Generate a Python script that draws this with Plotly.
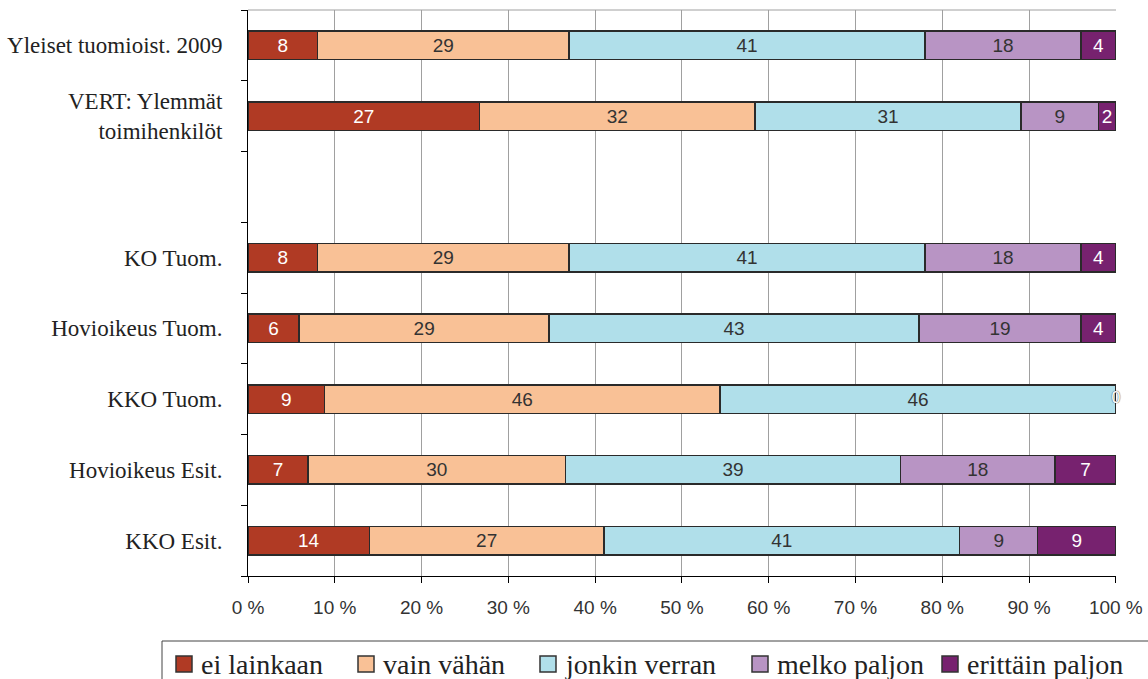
import plotly.graph_objects as go

categories = ["Yleiset tuomioist. 2009", "VERT: Ylemmät<br>toimihenkilöt", " ",
              "KO Tuom.", "Hovioikeus Tuom.", "KKO Tuom.", "Hovioikeus Esit.", "KKO Esit."]
series_names = ["ei lainkaan", "vain vähän", "jonkin verran", "melko paljon", "erittäin paljon"]
ei_lainkaan = [8, 26.7, None, 8, 5.9, 8.8, 6.9, 14]
vain_vahan = [29, 31.7, None, 29, 28.8, 45.6, 29.7, 27]
jonkin_verran = [41, 30.7, None, 41, 42.6, 45.6, 38.6, 41]
melko_paljon = [18, 8.9, None, 18, 18.7, 0, 17.8, 9]
erittain_paljon = [4, 2.0, None, 4, 4.0, 0, 7.0, 9]
x_ticks = [0, 10, 20, 30, 40, 50, 60, 70, 80, 90, 100]
x_ticklabels = [f"{v} %" for v in x_ticks]

colors = ["#B03A24", "#F9C196", "#B0DFEA", "#B894C4", "#77226F"]
text_colors = ["white", "#333333", "#333333", "#333333", "white"]
all_series = [ei_lainkaan, vain_vahan, jonkin_verran, melko_paljon, erittain_paljon]

SANS = "Liberation Sans, Arial, sans-serif"
SERIF = "Liberation Serif"

# figure geometry (pixels)
W, H = 1148, 679
ML, MR, MT, MB = 248, 32, 10, 103
PW, PH = W - ML - MR, H - MT - MB


def px_x(px):
    return (px - ML) / PW


def px_y(py):
    return (H - MB - py) / PH


fig = go.Figure()
for name, vals, col, tcol in zip(series_names, all_series, colors, text_colors):
    fig.add_trace(go.Bar(
        name=name, y=categories, x=vals, orientation="h",
        marker=dict(color=col, line=dict(color="#2a2a2a", width=1.5)),
        texttemplate="%{x:.0f}", textposition="inside", insidetextanchor="middle",
        textangle=0, constraintext="none",
        insidetextfont=dict(family=SANS, size=19, color=tcol),
        hoverinfo="skip", showlegend=False,
    ))

# zero-valued segments: label at their stacked position
zx, zy = [], []
for i, cat in enumerate(categories):
    cum = 0
    for vals in all_series:
        v = vals[i]
        if v is None:
            continue
        if v == 0:
            zx.append(cum)
            zy.append(cat)
        cum += v
fig.add_trace(go.Scatter(
    x=zx, y=zy, mode="text", text=["0"] * len(zx), showlegend=False,
    cliponaxis=False, hoverinfo="skip",
    textfont=dict(family=SANS, size=16, color="white",
                  shadow="0px 0px 1px #444"),
))

# hand-drawn legend (box, swatches, labels)
legend_box = (162, 641)
legend_item_px = [176, 358, 540, 752, 942]
sw = 16
cy = 664
shapes = [
    dict(type="line", xref="paper", yref="paper", x0=0, x1=1, y0=1, y1=1,
         line=dict(color="#a0a0a0", width=1)),
    dict(type="rect", xref="paper", yref="paper",
         x0=px_x(legend_box[0]), x1=px_x(W + 20), y0=px_y(legend_box[1]), y1=px_y(H + 20),
         line=dict(color="#444", width=1), fillcolor="rgba(0,0,0,0)", layer="above"),
]
annotations = []
for name, col, lx in zip(series_names, colors, legend_item_px):
    shapes.append(dict(type="rect", xref="paper", yref="paper",
                       x0=px_x(lx), x1=px_x(lx + sw), y0=px_y(cy - sw / 2), y1=px_y(cy + sw / 2),
                       line=dict(color="#333", width=1.5), fillcolor=col, layer="above"))
    annotations.append(dict(xref="paper", yref="paper", x=px_x(lx + sw + 7), y=px_y(cy),
                            xanchor="left", yanchor="middle", showarrow=False, text=name,
                            font=dict(family=SERIF, size=28, color="#222")))

fig.update_layout(
    barmode="stack", bargap=0.6,
    width=W, height=H,
    margin=dict(l=ML, r=MR, t=MT, b=MB),
    paper_bgcolor="white", plot_bgcolor="white",
    font=dict(family=SERIF, color="#222"),
    showlegend=False,
    shapes=shapes,
    annotations=annotations,
)
fig.update_xaxes(
    range=[0, 100.02], tickvals=x_ticks, ticktext=x_ticklabels,
    showgrid=True, gridcolor="#a0a0a0", gridwidth=1,
    showline=True, linecolor="black", linewidth=1,
    ticks="outside", ticklen=6, tickcolor="black",
    ticklabelstandoff=8, automargin=False,
    tickfont=dict(family=SANS, size=19, color="#333"),
    zeroline=False, fixedrange=True,
)
fig.update_yaxes(
    type="category", categoryorder="array", categoryarray=categories[::-1],
    tickson="boundaries", ticks="outside", ticklen=6, tickcolor="black",
    showline=True, linecolor="black", linewidth=1, showgrid=False,
    ticklabelstandoff=20, automargin=False,
    tickfont=dict(family=SERIF, size=23, color="#222"),
)

fig.write_html("out.html")
